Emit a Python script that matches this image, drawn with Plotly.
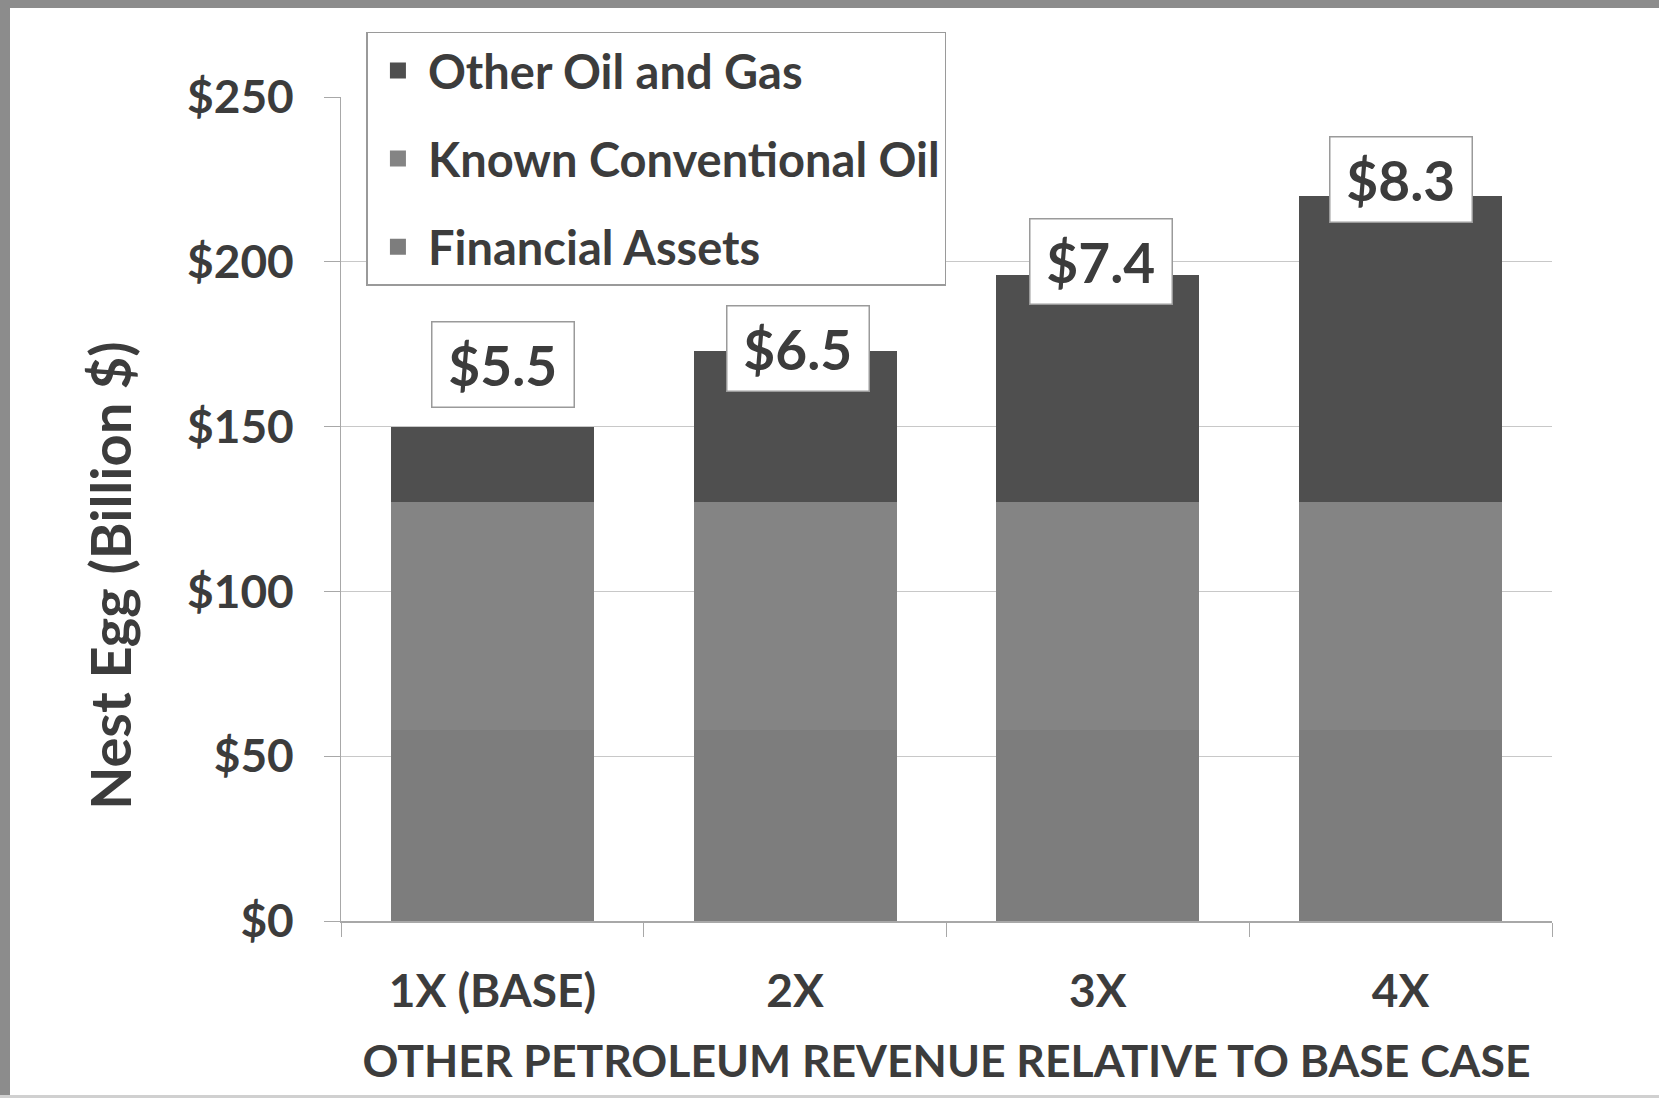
import plotly.graph_objects as go

# data (billion $)
categories = ["1X (BASE)", "2X", "3X", "4X"]
financial_assets = [58, 58, 58, 58]
known_conventional_oil = [69, 69, 69, 69]
other_oil_and_gas = [23, 46, 69, 93]
annual_labels = ["$5.5", "$6.5", "$7.4", "$8.3"]
y_ticks = [0, 50, 100, 150, 200, 250]
y_tick_labels = ["$0", "$50", "$100", "$150", "$200", "$250"]

FONT = "Lato"
TEXT = "#3c3c3c"
FRAME = "#8c8c8c"

series = [
    ("Financial Assets", financial_assets, "#7d7d7d", 3),
    ("Known Conventional Oil", known_conventional_oil, "#848484", 2),
    ("Other Oil and Gas", other_oil_and_gas, "#4f4f4f", 1),
]

fig = go.Figure()
for name, vals, color, rank in series:
    fig.add_trace(go.Bar(x=categories, y=vals, name=name,
                         marker=dict(color=color, line=dict(width=0)),
                         legendgroup=name, showlegend=False))
    # legend entry with a larger square swatch
    fig.add_trace(go.Scatter(x=[None], y=[None], mode="markers", name=name,
                             marker=dict(symbol="square", size=16, color=color),
                             legendgroup=name, legendrank=rank, hoverinfo="skip"))

# boxed labels above each bar
totals = [a + b + c for a, b, c in zip(financial_assets, known_conventional_oil, other_oil_and_gas)]
label_shift = [62, 2, 13, 16]  # pixels above the bar top
label_xshift = [11, 3, 3, 0]
for cat, tot, txt, sh, xs in zip(categories, totals, annual_labels, label_shift, label_xshift):
    fig.add_annotation(x=cat, y=tot, text="<b>&#8201;" + txt + "&#8201;</b>", showarrow=False,
                       yshift=sh, xshift=xs, font=dict(family=FONT, size=55, color=TEXT),
                       bgcolor="white", bordercolor="#9a9a9a", borderwidth=1.5,
                       borderpad=9)

# y axis title, placed a little below the middle as in the original
fig.add_annotation(text="<b>Nest Egg (Billion $)</b>", textangle=-90, showarrow=False,
                   xref="paper", yref="paper", x=-0.1908, y=0.42,
                   xanchor="center", yanchor="middle",
                   font=dict(family=FONT, size=56, color=TEXT))

fig.update_layout(
    barmode="stack",
    bargap=0.33,
    width=1659, height=1098,
    margin=dict(l=341, r=107, t=97, b=177),
    paper_bgcolor="white",
    plot_bgcolor="white",
    font=dict(family=FONT, color=TEXT),
    showlegend=True,
    legend=dict(
        traceorder="grouped",
        tracegroupgap=24,
        itemwidth=50,
        itemsizing="trace",
        x=0.021, y=1.079, xanchor="left", yanchor="top",
        bgcolor="white", bordercolor="#9a9a9a", borderwidth=1.5,
        font=dict(family=FONT, size=47, color=TEXT, weight="bold"),
    ),
)

fig.update_yaxes(
    range=[0, 250], tickvals=y_ticks, ticktext=y_tick_labels,
    showgrid=True, gridcolor="#c8c8c8", gridwidth=1,
    showline=True, linecolor="#a8a8a8", linewidth=1,
    ticks="outside", ticklen=16, tickcolor="#a8a8a8",
    ticklabelstandoff=21,
    tickfont=dict(family=FONT, size=46, color=TEXT, weight="bold"),
    zeroline=False,
)
fig.update_xaxes(
    categoryorder="array", categoryarray=categories,
    showline=True, linecolor="#a8a8a8", linewidth=1.5,
    ticks="outside", tickson="boundaries", ticklen=14, tickcolor="#a8a8a8",
    ticklabelstandoff=29,
    tickfont=dict(family=FONT, size=46, color=TEXT, weight="bold"),
    title=dict(text="OTHER PETROLEUM REVENUE RELATIVE TO BASE CASE", standoff=30,
               font=dict(family=FONT, size=44.5, color=TEXT, weight="bold")),
)

# gray frame on the left and top edges of the picture
pw, ph = 1659 - 341 - 107, 1098 - 97 - 177
fig.add_shape(type="rect", xref="paper", yref="paper",
              x0=-341 / pw, x1=(-341 + 10) / pw, y0=-177 / ph, y1=(ph + 97) / ph,
              fillcolor=FRAME, line=dict(width=0), layer="above")
fig.add_shape(type="rect", xref="paper", yref="paper",
              x0=-341 / pw, x1=(pw + 107) / pw, y0=(ph + 97 - 8) / ph, y1=(ph + 97) / ph,
              fillcolor=FRAME, line=dict(width=0), layer="above")
fig.add_shape(type="rect", xref="paper", yref="paper",
              x0=-341 / pw, x1=(pw + 107) / pw, y0=-177 / ph, y1=(-177 + 3) / ph,
              fillcolor="#d0d0d0", line=dict(width=0), layer="above")

fig.write_html("out.html", config={"displayModeBar": False},
               post_script="document.body.style.margin='0';")
